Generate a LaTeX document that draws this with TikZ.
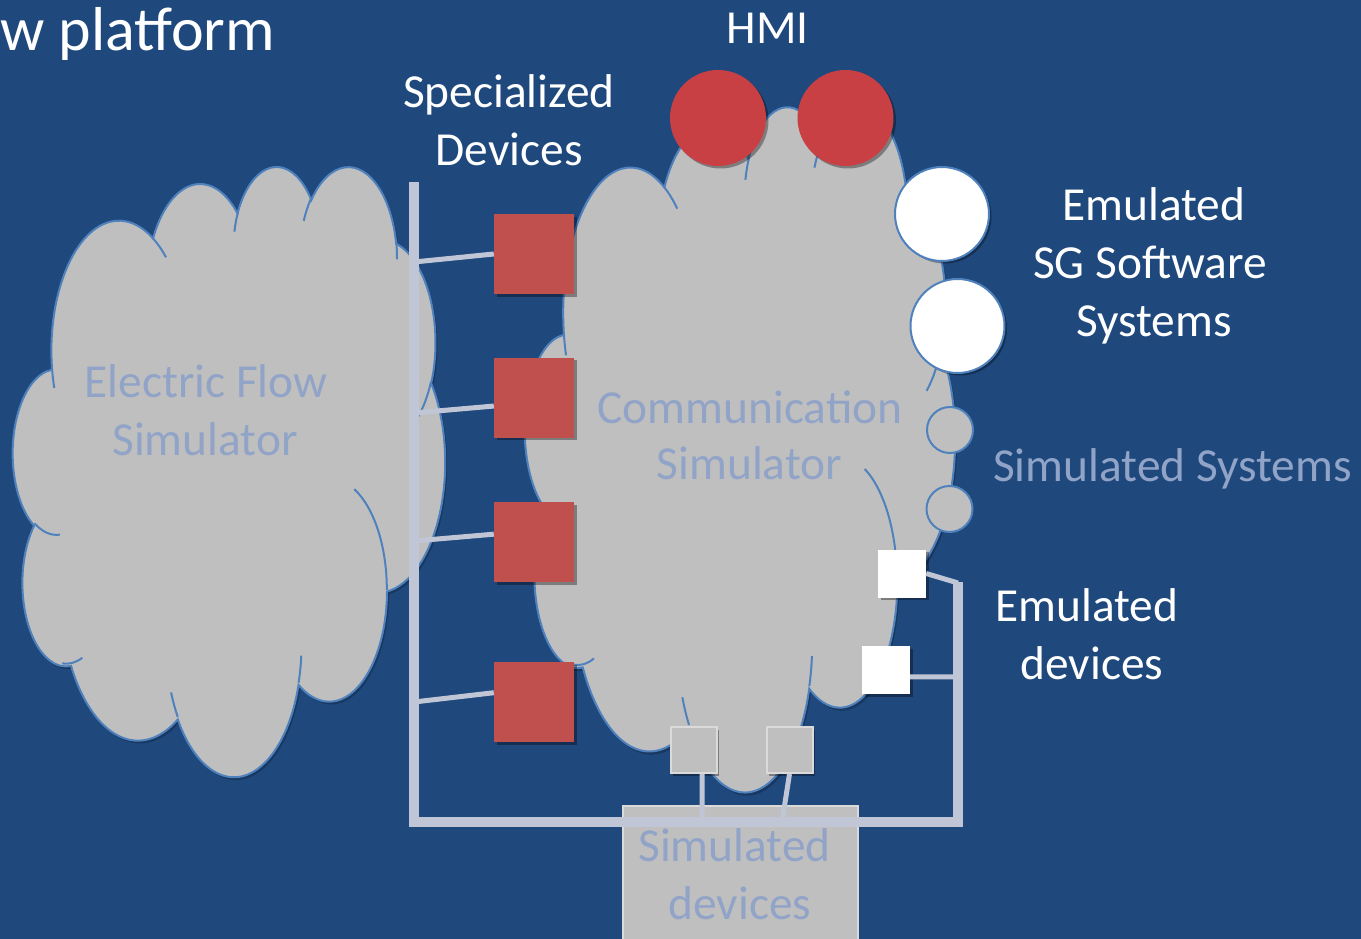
\documentclass[tikz,border=0pt]{standalone}
\usepackage{fontspec}
\setmainfont{Carlito}
\usetikzlibrary{shadows}

\definecolor{slidebg}{RGB}{31,73,125}
\definecolor{cloudfill}{RGB}{191,191,191}
\definecolor{cloudline}{RGB}{79,129,189}
\definecolor{devred}{RGB}{192,80,77}
\definecolor{hmired}{RGB}{200,64,68}
\definecolor{busgray}{RGB}{192,198,214}
\definecolor{edgegray}{RGB}{218,218,218}
\definecolor{faintblue}{RGB}{145,164,200}

% One puff of the cloud: radii, then start and sweep measured as the angle of
% the ray from the centre; they are turned into ellipse parameters here.
\newcommand\cloudarc[4]{%
  arc[x radius=#1, y radius=#2,
      start angle={atan2((#1)*sin(#3),(#2)*cos(#3))},
      delta angle={mod(atan2((#1)*sin((#3)+(#4)),(#2)*cos((#3)+(#4)))-atan2((#1)*sin(#3),(#2)*cos(#3))+720,360)}]}

% Outline of the cloud in a 432 x 432 box (y pointing down)
\newcommand\cloudoutline{%
  (39.00,143.70)
  \cloudarc{67.53}{91.90}{-190.4875}{123.7805}
  \cloudarc{53.33}{72.67}{-144.1024}{89.9452}
  \cloudarc{43.65}{59.45}{-145.8079}{99.7230}
  \cloudarc{48.57}{65.95}{-130.9861}{117.2417}
  \cloudarc{53.33}{72.73}{-78.7089}{109.0269}
  \cloudarc{67.75}{92.20}{-46.2673}{130.2690}
  \cloudarc{57.85}{78.67}{0.6250}{114.0333}
  \cloudarc{67.52}{92.15}{22.4516}{115.1726}
  \cloudarc{77.20}{105.43}{66.2426}{75.7110}
  \cloudarc{43.60}{59.18}{-274.9421}{146.7356}
  \cloudarc{43.45}{59.45}{-246.8285}{152.5189}
  -- cycle}

% The short inner strokes where the puffs meet
\newcommand\cloudcreases{%
  (46.93,261.77) \cloudarc{43.45}{59.45}{86.7420}{26.4295}
  (69.28,348.99) \cloudarc{43.60}{59.18}{73.6105}{20.1735}
  (164.78,390.90) \cloudarc{67.52}{92.15}{137.6242}{14.0811}
  (288.27,347.51) \cloudarc{67.52}{92.15}{6.4533}{15.9984}
  (341.29,229.54) \cloudarc{57.85}{78.67}{-70.2924}{70.9174}
  (417.98,153.54) \cloudarc{53.33}{72.73}{30.3180}{27.7515}
  (383.24,54.26) \cloudarc{48.57}{65.95}{-13.7443}{14.8589}
  (290.78,39.52) \cloudarc{48.57}{65.95}{-149.1815}{18.1954}
  (221.41,47.20) \cloudarc{43.65}{59.45}{-163.4943}{17.6864}
  (140.00,51.92) \cloudarc{67.53}{91.90}{-66.7070}{12.3194}
  (41.27,157.89) \cloudarc{67.53}{91.90}{157.6544}{11.8582}}

% \drawcloud{left}{top}{width}{height}
\newcommand\drawcloud[4]{%
  \pgfmathsetmacro\cloudsx{#3/432}%
  \pgfmathsetmacro\cloudsy{#4/432}%
  \begin{scope}[shift={(#1,#2)}, x=\cloudsx pt, y=-\cloudsy pt]
    \fill[black, opacity=0.22, shift={(2,2)}] \cloudoutline;
    \path[fill=cloudfill, draw=cloudline, line width=2pt] \cloudoutline;
    \draw[cloudline, line width=2pt] \cloudcreases;
  \end{scope}}

\begin{document}
\begin{tikzpicture}[x=1pt, y=-1pt,
  lbl/.style={text=white, inner sep=0pt, anchor=base,
              font=\fontsize{47.4}{57}\selectfont},
  faint/.style={lbl, text=faintblue},
  shade/.style={drop shadow={shadow xshift=2.5pt, shadow yshift=-2.5pt,
                             opacity=0.35, fill=black}},
  devsq/.style={rectangle, fill=devred, minimum size=80pt, inner sep=0pt, shade},
  hmiball/.style={circle, fill=hmired, minimum size=96pt, inner sep=0pt, shade},
  swball/.style={circle, fill=white, draw=cloudline, line width=2pt,
                 minimum size=94pt, inner sep=0pt, shade},
  simball/.style={circle, fill=cloudfill, draw=cloudline, line width=2pt,
                  minimum size=46pt, inner sep=0pt},
  emusq/.style={rectangle, fill=white, minimum size=48pt, inner sep=0pt, shade},
  simsq/.style={rectangle, fill=cloudfill, draw=edgegray, line width=2pt,
                minimum size=46pt, inner sep=0pt, shade},
  simbox/.style={rectangle, fill=cloudfill, draw=edgegray, line width=2pt,
                 inner sep=0pt},
  bus/.style={draw=busgray, line width=10pt},
  tap/.style={draw=busgray, line width=5pt}]

\useasboundingbox (0,0) rectangle (1361,939);
\clip (0,0) rectangle (1361,939);
\fill[slidebg] (0,0) rectangle (1361,939);

% the two simulators
\drawcloud{13}{165}{432}{610}
\drawcloud{525}{105}{430}{685}

\node[faint] (ef1) at (206,397) {Electric Flow};
\node[faint] (ef2) at (205,455) {Simulator};
\node[faint] (cs1) at (750,423) {Communication};
\node[faint] (cs2) at (749.5,479) {Simulator};

% titles and labels
\node[lbl, anchor=base west, font=\fontsize{62}{74}\selectfont] (title) at (0,51) {w platform};
\node[lbl] (hmi) at (767.5,44) {HMI};
\node[lbl] (spec1) at (509,108) {Specialized};
\node[lbl] (spec2) at (509,166) {Devices};
\node[lbl] (sw1) at (1154,221) {Emulated};
\node[lbl] (sw2) at (1150,278) {SG Software};
\node[lbl] (sw3) at (1154,336) {Systems};
\node[faint, anchor=base west] (simsys) at (993,481) {Simulated Systems};
\node[lbl] (emu1) at (1087,621) {Emulated};
\node[lbl] (emu2) at (1092,679) {devices};

% simulated devices
\node[simbox, minimum width=235pt, minimum height=160pt] (sdbox) at (740.5,886) {};
\node[faint] (sd1) at (734.5,861) {Simulated};
\node[faint] (sd2) at (740,919) {devices};
\node[simsq] (g1) at (693.5,750) {};
\node[simsq] (g2) at (789.5,750) {};

% specialized devices
\node[devsq] (d1) at (534,254) {};
\node[devsq] (d2) at (534,397.5) {};
\node[devsq] (d3) at (534,542) {};
\node[devsq] (d4) at (534,702) {};

% HMI and emulated software systems
\node[hmiball] (h1) at (718,118) {};
\node[hmiball] (h2) at (845.5,118) {};
\node[swball] (s1) at (942,214) {};
\node[swball] (s2) at (957.5,326) {};
\node[simball] (c1) at (950,430) {};
\node[simball] (c2) at (949.5,509) {};

% emulated devices
\node[emusq] (e1) at (902,573.5) {};
\node[emusq] (e2) at (886,670) {};

% bus and its taps
\coordinate (busTop) at (414,182);
\coordinate (busBL) at (414,822);
\coordinate (busBR) at (958,822);
\coordinate (busRT) at (958,582);
\coordinate (t1) at (414,262);
\coordinate (t2) at (414,413);
\coordinate (t3) at (414,541);
\coordinate (t4) at (414,702);
\coordinate (t5) at (958,583);
\coordinate (t6) at (958,677);
\coordinate (t7) at (702,822);
\coordinate (t8) at (782,822);

\draw[tap] (t1) -- (d1.west);
\draw[tap] (t2) -- (d2.192);
\draw[tap] (t3) -- (d3.169);
\draw[tap] (t4) -- (d4.167);
\draw[tap] (e1.east) -- (t5);
\draw[tap] (e2.-16) -- (t6);
\draw[tap] (g1.-70.5) -- (t7);
\draw[tap] (g2.south) -- (t8);

\draw[bus] (busTop) -- (busBL) -- (busBR) -- (busRT);
\end{tikzpicture}
\end{document}
